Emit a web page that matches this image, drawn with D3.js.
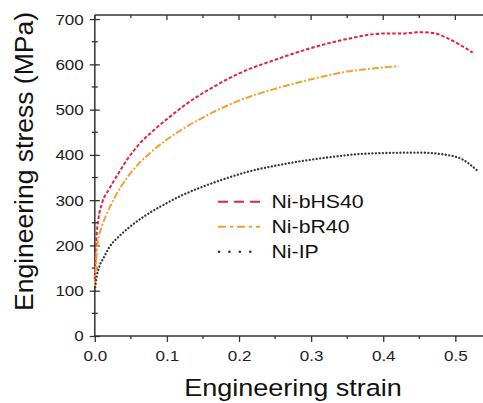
<!DOCTYPE html>
<html>
<head>
<meta charset="utf-8">
<script src="https://cdn.jsdelivr.net/npm/d3@7"></script>
<style>
  body { margin: 0; background: #fff; }
  svg { display: block; font-family: "Liberation Sans", Arial, sans-serif; }
</style>
</head>
<body>
<svg id="chart"></svg>
<script>
const width = 483;
const height = 403;

// Ni-bHS40 (red dashed)
const strainHS = [0, 0.002, 0.005, 0.01, 0.02, 0.03, 0.045, 0.06, 0.08, 0.1, 0.13, 0.16, 0.2, 0.25, 0.3, 0.35, 0.4, 0.425, 0.45, 0.47, 0.49, 0.51, 0.524];
const stressHS = [125, 210, 258, 293, 325, 352, 390, 421, 452, 479, 516, 546, 580, 610, 636, 656, 668, 668, 671, 669, 657, 640, 626];

// Ni-bR40 (orange dash-dot)
const strainR = [0, 0.001, 0.003, 0.006, 0.01, 0.02, 0.03, 0.045, 0.06, 0.08, 0.1, 0.13, 0.16, 0.2, 0.25, 0.3, 0.35, 0.4, 0.421];
const stressR = [110, 140, 190, 222, 243, 282, 313, 350, 379, 409, 434, 465, 491, 520, 546, 567, 584, 593, 596];

// Ni-IP (black dotted)
const strainIP = [0, 0.003, 0.006, 0.012, 0.021, 0.035, 0.05, 0.07, 0.09, 0.12, 0.15, 0.18, 0.215, 0.25, 0.285, 0.326, 0.36, 0.40, 0.45, 0.488, 0.51, 0.532];
const stressIP = [100, 134, 152, 172, 198, 222, 243, 266, 285, 310, 330, 347, 364, 376, 386, 395, 401, 404, 405, 400, 390, 363];

const xTicks = [0, 0.1, 0.2, 0.3, 0.4, 0.5];
const xMinor = [0.05, 0.15, 0.25, 0.35, 0.45, 0.55];
const yTicks = [0, 100, 200, 300, 400, 500, 600, 700];
const yMinor = [50, 150, 250, 350, 450, 550, 650];

const seriesNames = ["Ni-bHS40", "Ni-bR40", "Ni-IP"];

const series = [
  { name: seriesNames[0], x: strainHS, y: stressHS, color: "#e5233d", dash: "3.5,2", legendDash: "10,6", cap: "butt" },
  { name: seriesNames[1], x: strainR, y: stressR, color: "#f3a133", dash: "7,2,2,2", legendDash: "8,4,3,4", cap: "butt" },
  { name: seriesNames[2], x: strainIP, y: stressIP, color: "#383838", dash: "0.1,3.4", legendDash: "0.1,10.3", cap: "round" }
];

const svg = d3.select("#chart")
  .attr("width", width)
  .attr("height", height);

const x = d3.scaleLinear().domain([0, 0.54]).range([94.8, 484.2]);
const y = d3.scaleLinear().domain([0, 709]).range([336, 15]);

const axisColor = "#333";

// frame top line
svg.append("line")
  .attr("x1", x(0)).attr("x2", width)
  .attr("y1", y(709)).attr("y2", y(709))
  .attr("stroke", axisColor).attr("stroke-width", 1.5);

// top ticks (inward)
svg.append("g").selectAll("line")
  .data(xTicks.concat(xMinor))
  .join("line")
    .attr("x1", d => x(d)).attr("x2", d => x(d))
    .attr("y1", y(709))
    .attr("y2", d => y(709) + (xTicks.includes(d) ? 5 : 3))
    .attr("stroke", axisColor).attr("stroke-width", 1.3);

// bottom axis
const xAxis = svg.append("g")
  .attr("transform", `translate(0,${y(0)})`)
  .call(d3.axisBottom(x).tickValues(xTicks).tickFormat(d3.format(".1f")).tickSize(6).tickSizeOuter(0));
xAxis.select(".domain").attr("stroke", axisColor).attr("stroke-width", 1.5).attr("d", `M${x(0)},0H${width}`);
xAxis.selectAll(".tick line").attr("stroke", axisColor).attr("stroke-width", 1.3);
xAxis.selectAll(".tick text")
  .attr("y", 25.5).attr("dy", 0)
  .attr("font-size", 15.5)
  .attr("fill", "#222")
  .attr("font-family", "Liberation Sans, Arial, sans-serif")
  .attr("transform", "scale(1.1,1)");

svg.append("g").selectAll("line")
  .data(xMinor.filter(d => x(d) < width))
  .join("line")
    .attr("x1", d => x(d)).attr("x2", d => x(d))
    .attr("y1", y(0)).attr("y2", y(0) + 3)
    .attr("stroke", axisColor).attr("stroke-width", 1.3);

// left axis, ticks crossing the line
const yAxis = svg.append("g")
  .attr("transform", `translate(${x(0)},0)`)
  .call(d3.axisLeft(y).tickValues(yTicks).tickSize(5).tickSizeOuter(0));
yAxis.select(".domain").attr("stroke", axisColor).attr("stroke-width", 1.5).attr("d", `M0,${y(0)}V${y(709)}`);
yAxis.selectAll(".tick line").attr("x1", 5).attr("stroke", axisColor).attr("stroke-width", 1.3);
yAxis.selectAll(".tick text")
  .attr("x", -10)
  .attr("font-size", 15.5)
  .attr("fill", "#222")
  .attr("font-family", "Liberation Sans, Arial, sans-serif")
  .attr("transform", "scale(1.1,1)");

svg.append("g").selectAll("line")
  .data(yMinor)
  .join("line")
    .attr("x1", x(0) - 3).attr("x2", x(0) + 3)
    .attr("y1", d => y(d)).attr("y2", d => y(d))
    .attr("stroke", axisColor).attr("stroke-width", 1.3);

// curves
const line = d3.line()
  .x(d => x(d[0]))
  .y(d => y(d[1]))
  .curve(d3.curveMonotoneX);

svg.append("g").selectAll("path")
  .data(series)
  .join("path")
    .attr("d", s => line(s.x.map((v, i) => [v, s.y[i]])))
    .attr("fill", "none")
    .attr("stroke", s => s.color)
    .attr("stroke-width", s => s.cap === "round" ? 2.3 : 2)
    .attr("stroke-linecap", s => s.cap)
    .attr("stroke-dasharray", s => s.dash);

// legend
const legend = svg.append("g").attr("transform", "translate(218,201.7)");
const item = legend.selectAll("g")
  .data(series)
  .join("g")
    .attr("transform", (d, i) => `translate(0,${i * 25})`);

item.append("line")
  .attr("x1", d => d.cap === "round" ? 1 : 0).attr("x2", 42)
  .attr("stroke", d => d.color)
  .attr("stroke-width", d => d.cap === "round" ? 2.6 : 2)
  .attr("stroke-linecap", d => d.cap)
  .attr("stroke-dasharray", d => d.legendDash);

item.append("text")
  .attr("transform", "translate(53.5,6.5) scale(1.15,1)")
  .attr("font-size", 18.5)
  .attr("fill", "#111")
  .text(d => d.name);

// axis titles
svg.append("text")
  .attr("transform", "translate(293,396) scale(1.15,1)")
  .attr("text-anchor", "middle")
  .attr("font-size", 23.5)
  .attr("fill", "#111")
  .text("Engineering strain");

svg.append("text")
  .attr("transform", "translate(33,161.5) rotate(-90)")
  .attr("text-anchor", "middle")
  .attr("font-size", 26.5)
  .attr("fill", "#111")
  .text("Engineering stress (MPa)");
</script>
</body>
</html>
